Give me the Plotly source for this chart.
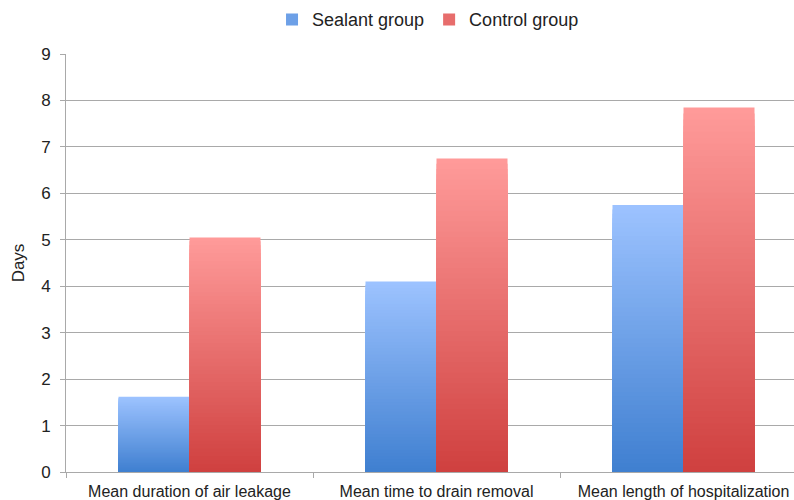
import plotly.graph_objects as go

categories = ["Mean duration of air leakage", "Mean time to drain removal", "Mean length of hospitalization"]
sealant = [1.62, 4.10, 5.75]
control = [5.05, 6.75, 7.85]

series = [
    ("Sealant group", sealant, (0x3f, 0x7f, 0xd0), (0x9d, 0xc3, 0xff)),
    ("Control group", control, (0xcf, 0x40, 0x3f), (0xff, 0x9b, 0x9a)),
]

N = 60  # gradient steps per bar


def mix(c0, c1, t):
    return "rgb(%d,%d,%d)" % tuple(round(a + (b - a) * t) for a, b in zip(c0, c1))


fig = go.Figure()
for name, vals, bottom, top in series:
    # Tall-to-short overlapping bars give a vertical gradient, dark at the base
    for k in range(N, 0, -1):
        t = (k - 0.5) / N
        fig.add_trace(go.Bar(
            x=categories,
            y=[v * k / N for v in vals],
            name=name,
            legendgroup=name,
            offsetgroup=name,
            showlegend=(k == N // 2),
            marker=dict(color=mix(bottom, top, t), line=dict(width=0)),
            hoverinfo="skip",
        ))

grid = "#a9a9a9"
fig.update_layout(
    width=794, height=500,
    margin=dict(l=66, r=0, t=54, b=28),
    paper_bgcolor="white", plot_bgcolor="white",
    barmode="group", bargap=0.425, bargroupgap=0,
    font=dict(family="Liberation Sans, Arial, sans-serif", color="#222222"),
    legend=dict(
        orientation="h", x=0.283, xanchor="left", y=1.082, yanchor="middle",
        font=dict(size=18), itemwidth=30, traceorder="normal",
        bgcolor="rgba(0,0,0,0)",
    ),
    xaxis=dict(
        type="category", range=[-0.5, -0.5 + 728 / 247],
        showline=True, linecolor=grid, linewidth=1,
        ticks="outside", tickson="boundaries", ticklen=5, tickcolor=grid,
        showgrid=False, tickfont=dict(size=16), ticklabelstandoff=5,
        fixedrange=True,
    ),
    yaxis=dict(
        range=[0, 9], dtick=1, tick0=0,
        showline=True, linecolor=grid, linewidth=1,
        showgrid=True, gridcolor=grid, gridwidth=1,
        ticks="outside", ticklen=5, tickcolor=grid,
        tickfont=dict(size=17), ticklabelstandoff=6,
        title=dict(text="Days", font=dict(size=17), standoff=12),
        zeroline=False,
    ),
)

fig.write_html("out.html")
